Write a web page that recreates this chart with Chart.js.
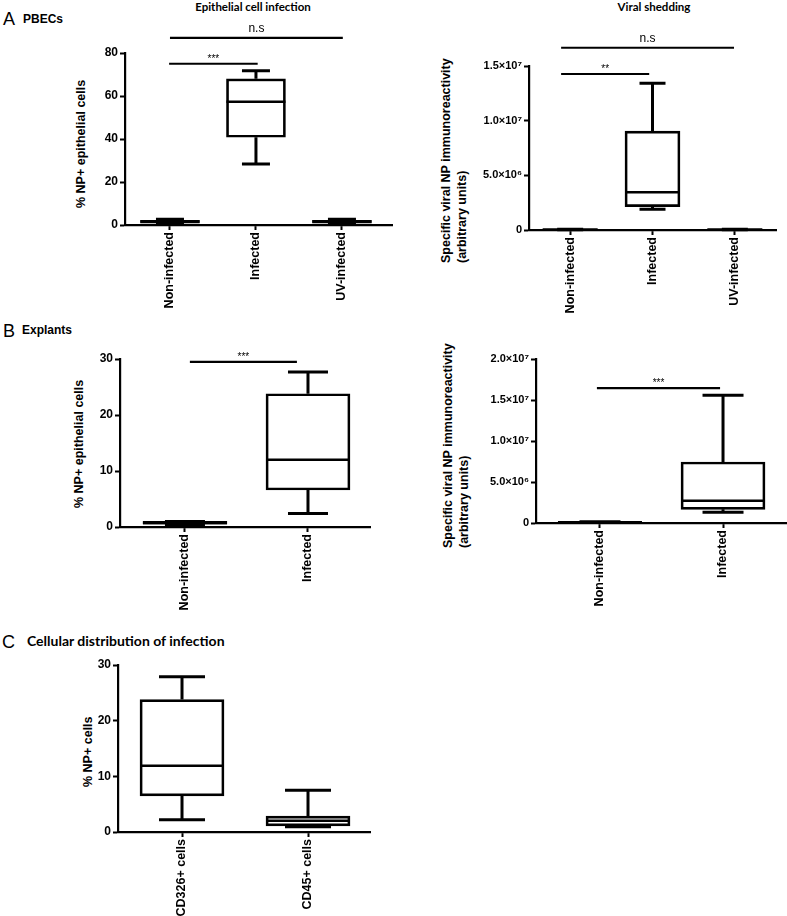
<!DOCTYPE html>
<html>
<head>
<meta charset="utf-8">
<script src="https://cdn.jsdelivr.net/npm/chart.js@4.4.0/dist/chart.umd.min.js"></script>
<style>
  body { margin: 0; background: #fff; }
  #page { position: relative; width: 787px; height: 916px; overflow: hidden; font-family: "Liberation Sans", Arial, sans-serif; color: #000; }
  .holder { position: absolute; }
  .txt { position: absolute; white-space: nowrap; line-height: 1; }
  .panel { font-size: 18px; }
  .head { font-size: 12px; font-weight: bold; }
  .title { font-family: Lato, "Liberation Sans", sans-serif; font-weight: bold; font-size: 11.5px; width: 240px; text-align: center; }
  .ytitle { position: absolute; white-space: nowrap; transform-origin: 0 0; transform: rotate(-90deg); font-weight: bold; font-size: 12.5px; line-height: 16px; }
</style>
</head>
<body>
<div id="page">
  <div class="txt panel" style="left:3px;top:10px;">A</div>
  <div class="txt head" style="left:23px;top:13px;">PBECs</div>
  <div class="txt title" style="left:133px;top:1px;">Epithelial cell infection</div>
  <div class="txt title" style="left:534px;top:1px;">Viral shedding</div>

  <div class="txt panel" style="left:3px;top:322px;">B</div>
  <div class="txt head" style="left:22px;top:324px;">Explants</div>

  <div class="txt panel" style="left:2px;top:633px;">C</div>
  <div class="txt" style="left:27px;top:634px;font-family:Lato,'Liberation Sans',sans-serif;font-weight:bold;font-size:14px;">Cellular distribution of infection</div>

  <div class="ytitle" style="left:73px;top:208px;">% NP+ epithelial cells</div>
  <div class="ytitle" style="left:438px;top:263px;">Specific viral NP immunoreactivity<br>(arbitrary units)</div>
  <div class="ytitle" style="left:71px;top:508px;">% NP+ epithelial cells</div>
  <div class="ytitle" style="left:440px;top:548px;">Specific viral NP immunoreactivity<br>(arbitrary units)</div>
  <div class="ytitle" style="left:80px;top:787px;">% NP+ cells</div>

  <div class="holder" style="left:0px;top:20px;width:400px;height:295px;"><canvas id="pbecInfection"></canvas></div>
  <div class="holder" style="left:400px;top:20px;width:387px;height:300px;"><canvas id="pbecShedding"></canvas></div>
  <div class="holder" style="left:0px;top:340px;width:400px;height:277px;"><canvas id="explantInfection"></canvas></div>
  <div class="holder" style="left:400px;top:340px;width:387px;height:273px;"><canvas id="explantShedding"></canvas></div>
  <div class="holder" style="left:0px;top:650px;width:400px;height:266px;"><canvas id="cellDistribution"></canvas></div>
</div>
<script>
Chart.defaults.font.family = '"Liberation Sans", Arial, sans-serif';
Chart.defaults.color = "#000";

// A - PBECs, epithelial cell infection (%)
const pbecGroups = ["Non-infected", "Infected", "UV-infected"];
const pbecInfMin = [0.6, 28.4, 0.6];
const pbecInfQ1 = [0.9, 40.8, 0.9];
const pbecInfMedian = [1.6, 57.3, 1.6];
const pbecInfQ3 = [2.2, 68.0, 2.2];
const pbecInfMax = [2.7, 71.8, 2.7];
const pbecInfTicks = [0, 20, 40, 60, 80];
const pbecInfSigFrom = [-0.01, 0];
const pbecInfSigTo = [1.02, 2.01];
const pbecInfSigValue = [75, 87];
const pbecInfSigLabel = ["***", "n.s"];

// A - PBECs, viral shedding
const pbecShedMin = [20000, 1890000, 20000];
const pbecShedQ1 = [30000, 2130000, 30000];
const pbecShedMedian = [40000, 3450000, 40000];
const pbecShedQ3 = [50000, 9050000, 50000];
const pbecShedMax = [60000, 13420000, 60000];
const pbecShedTicks = [0, 5e6, 1e7, 1.5e7];
const pbecShedSigFrom = [-0.11, -0.11];
const pbecShedSigTo = [0.96, 1.99];
const pbecShedSigValue = [14270000, 16670000];
const pbecShedSigLabel = ["**", "n.s"];

// B - Explants, epithelial cell infection (%)
const explantGroups = ["Non-infected", "Infected"];
const explantInfMin = [0.4, 2.4];
const explantInfQ1 = [0.5, 6.6];
const explantInfMedian = [0.7, 12.0];
const explantInfQ3 = [1.0, 23.8];
const explantInfMax = [1.0, 27.7];
const explantInfTicks = [0, 10, 20, 30];
const explantInfSigFrom = [0.04];
const explantInfSigTo = [0.91];
const explantInfSigValue = [29.5];
const explantInfSigLabel = ["***"];

// B - Explants, viral shedding
const explantShedMin = [50000, 1300000];
const explantShedQ1 = [80000, 1670000];
const explantShedMedian = [100000, 2720000];
const explantShedQ3 = [120000, 7440000];
const explantShedMax = [150000, 15570000];
const explantShedTicks = [0, 5e6, 1e7, 1.5e7, 2e7];
const explantShedSigFrom = [-0.025];
const explantShedSigTo = [0.976];
const explantShedSigValue = [16460000];
const explantShedSigLabel = ["***"];

// C - Cellular distribution of infection (%)
const cellGroups = ["CD326+ cells", "CD45+ cells"];
const cellMin = [2.2, 0.95];
const cellQ1 = [6.5, 1.1];
const cellMedian = [11.9, 2.0];
const cellQ3 = [23.8, 2.85];
const cellMax = [27.9, 7.5];
const cellTicks = [0, 10, 20, 30];

const SUP = { "0": "⁰", "1": "¹", "2": "²", "3": "³", "4": "⁴", "5": "⁵", "6": "⁶", "7": "⁷", "8": "⁸", "9": "⁹" };
function sciTick(v) {
  if (v === 0) return "0";
  const e = Math.floor(Math.log10(v) + 1e-9);
  const m = v / Math.pow(10, e);
  return m.toFixed(1) + "×10" + String(e).split("").map((d) => SUP[d]).join("");
}

// whiskers, caps, medians and significance bars on top of the floating-bar boxes
function boxExtras(s) {
  return {
    id: "boxExtras",
    afterDatasetsDraw(chart) {
      const { ctx } = chart;
      const x = chart.scales.x;
      const y = chart.scales.y;
      ctx.save();
      ctx.strokeStyle = "#000";
      ctx.fillStyle = "#000";
      s.median.forEach((med, i) => {
        const cx = x.getPixelForValue(i);
        const half = s.boxWidth / 2;
        const cap = s.capWidth / 2;
        const pMin = y.getPixelForValue(s.min[i]);
        const pQ1 = y.getPixelForValue(s.q1[i]);
        const pQ3 = y.getPixelForValue(s.q3[i]);
        const pMax = y.getPixelForValue(s.max[i]);
        const pMed = y.getPixelForValue(med);
        ctx.lineWidth = 3;
        ctx.beginPath();
        ctx.moveTo(cx, pQ3); ctx.lineTo(cx, pMax);
        ctx.moveTo(cx - cap, pMax); ctx.lineTo(cx + cap, pMax);
        ctx.moveTo(cx, pQ1); ctx.lineTo(cx, pMin);
        ctx.moveTo(cx - cap, pMin); ctx.lineTo(cx + cap, pMin);
        ctx.stroke();
        ctx.lineWidth = 2.5;
        ctx.beginPath();
        ctx.moveTo(cx - half, pMed); ctx.lineTo(cx + half, pMed);
        ctx.stroke();
      });
      ctx.lineWidth = 2.2;
      ctx.textAlign = "center";
      ctx.textBaseline = "alphabetic";
      (s.sigLabel || []).forEach((label, i) => {
        const x1 = x.getPixelForValue(s.sigFrom[i]);
        const x2 = x.getPixelForValue(s.sigTo[i]);
        const py = y.getPixelForValue(s.sigValue[i]);
        ctx.beginPath();
        ctx.moveTo(x1, py);
        ctx.lineTo(x2, py);
        ctx.stroke();
        const stars = label.includes("*");
        ctx.font = (stars ? "10px" : "12px") + ' "Liberation Sans", Arial, sans-serif';
        ctx.fillText(label, (x1 + x2) / 2, py - (stars ? 2 : 6));
      });
      ctx.restore();
    },
  };
}

function makeBoxChart(id, s) {
  const axisGrid = { drawOnChartArea: false, drawTicks: true, tickLength: 5, tickWidth: 2, tickColor: "#000", offset: false };
  const axisBorder = { display: true, color: "#000", width: 2.2 };
  return new Chart(document.getElementById(id), {
    type: "bar",
    data: {
      datasets: [
        {
          data: s.groups.map((g, i) => ({ x: i, y: [s.q1[i], s.q3[i]] })),
          backgroundColor: "#fff",
          borderColor: "#000",
          borderWidth: 2.7,
          borderSkipped: false,
          barThickness: s.boxWidth,
        },
      ],
    },
    plugins: [boxExtras(s)],
    options: {
      responsive: true,
      maintainAspectRatio: false,
      animation: false,
      layout: { padding: { top: s.padTop, right: s.padRight, left: 0, bottom: 0 } },
      plugins: { legend: { display: false }, tooltip: { enabled: false } },
      scales: {
        x: {
          type: "linear",
          offset: false,
          min: s.xMin,
          max: s.xMax,
          afterBuildTicks: (scale) => {
            scale.ticks = s.groups.map((g, i) => ({ value: i }));
          },
          afterFit: (scale) => {
            scale.height = s.xAxisHeight;
          },
          grid: axisGrid,
          border: axisBorder,
          ticks: {
            autoSkip: false,
            minRotation: 90,
            maxRotation: 90,
            padding: 2,
            color: "#000",
            font: { size: 12.5, weight: "bold" },
            callback: (v) => s.groups[v],
          },
        },
        y: {
          min: 0,
          max: s.ticks[s.ticks.length - 1],
          afterBuildTicks: (scale) => {
            scale.ticks = s.ticks.map((v) => ({ value: v }));
          },
          afterFit: (scale) => {
            scale.width = s.yAxisWidth;
          },
          grid: axisGrid,
          border: axisBorder,
          ticks: {
            padding: 2,
            color: "#000",
            font: { size: s.sci ? 11 : 12, weight: "bold" },
            callback: s.sci ? sciTick : (v) => String(v),
          },
        },
      },
    },
  });
}

makeBoxChart("pbecInfection", {
  groups: pbecGroups, min: pbecInfMin, q1: pbecInfQ1, median: pbecInfMedian, q3: pbecInfQ3, max: pbecInfMax,
  ticks: pbecInfTicks, sigFrom: pbecInfSigFrom, sigTo: pbecInfSigTo, sigValue: pbecInfSigValue, sigLabel: pbecInfSigLabel,
  boxWidth: 59, capWidth: 28, xMin: -0.523, xMax: 2.582, yAxisWidth: 125, xAxisHeight: 90, padTop: 33, padRight: 8,
});

makeBoxChart("pbecShedding", {
  groups: pbecGroups, min: pbecShedMin, q1: pbecShedQ1, median: pbecShedMedian, q3: pbecShedQ3, max: pbecShedMax,
  ticks: pbecShedTicks, sigFrom: pbecShedSigFrom, sigTo: pbecShedSigTo, sigValue: pbecShedSigValue, sigLabel: pbecShedSigLabel,
  sci: true, boxWidth: 55, capWidth: 26, xMin: -0.5, xMax: 2.5, yAxisWidth: 129, xAxisHeight: 90, padTop: 46, padRight: 11,
});

makeBoxChart("explantInfection", {
  groups: explantGroups, min: explantInfMin, q1: explantInfQ1, median: explantInfMedian, q3: explantInfQ3, max: explantInfMax,
  ticks: explantInfTicks, sigFrom: explantInfSigFrom, sigTo: explantInfSigTo, sigValue: explantInfSigValue, sigLabel: explantInfSigLabel,
  boxWidth: 84, capWidth: 40, xMin: -0.528, xMax: 1.504, yAxisWidth: 120, xAxisHeight: 90, padTop: 19, padRight: 30,
});

makeBoxChart("explantShedding", {
  groups: explantGroups, min: explantShedMin, q1: explantShedQ1, median: explantShedMedian, q3: explantShedQ3, max: explantShedMax,
  ticks: explantShedTicks, sigFrom: explantShedSigFrom, sigTo: explantShedSigTo, sigValue: explantShedSigValue, sigLabel: explantShedSigLabel,
  sci: true, boxWidth: 84, capWidth: 41, xMin: -0.52, xMax: 1.52, yAxisWidth: 136, xAxisHeight: 90, padTop: 19, padRight: 0,
});

makeBoxChart("cellDistribution", {
  groups: cellGroups, min: cellMin, q1: cellQ1, median: cellMedian, q3: cellQ3, max: cellMax,
  ticks: cellTicks, boxWidth: 84, capWidth: 46, xMin: -0.508, xMax: 1.492, yAxisWidth: 118, xAxisHeight: 84, padTop: 15, padRight: 30,
});
</script>
</body>
</html>
